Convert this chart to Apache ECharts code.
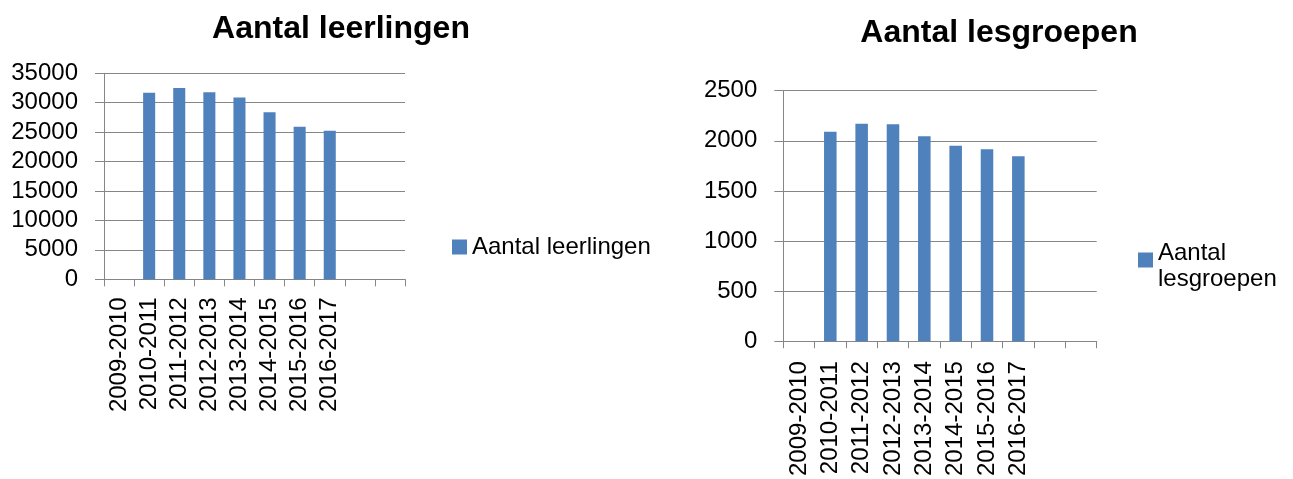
<!DOCTYPE html>
<html>
<head>
<meta charset="utf-8">
<script src="https://cdn.jsdelivr.net/npm/echarts@6/dist/echarts.min.js"></script>
<style>
html,body{margin:0;padding:0;background:#fff;}
#c{width:1293px;height:479px;}
</style>
</head>
<body>
<div id="c"></div>
<script>
const categories = ['2009-2010','2010-2011','2011-2012','2012-2013','2013-2014','2014-2015','2015-2016','2016-2017','',''];
const leerlingen = [null, 31700, 32500, 31800, 30900, 28400, 25900, 25250, null, null];
const lesgroepen = [null, 2090, 2170, 2165, 2045, 1950, 1915, 1845, null, null];
const titleLeft = 'Aantal leerlingen';
const titleRight = 'Aantal lesgroepen';
const seriesLeft = 'Aantal leerlingen';
const seriesRight = 'Aantal lesgroepen';

const FONT = '"Liberation Sans", Arial, sans-serif';
const GRID = '#868686';
const BAR = '#4F81BD';

function xAxis(gridIndex, margin) {
  return {
    type: 'category', gridIndex, data: categories, boundaryGap: true,
    axisLine: {show: true, lineStyle: {color: GRID, width: 1}},
    axisTick: {show: true, length: 7, interval: 0, alignWithLabel: false, lineStyle: {color: GRID}},
    axisLabel: {interval: 0, rotate: 90, margin, color: '#000', fontFamily: FONT, fontSize: 24},
    splitLine: {show: false}
  };
}
function yAxis(gridIndex, max, interval) {
  return {
    type: 'value', gridIndex, min: 0, max, interval,
    axisLine: {show: true, lineStyle: {color: GRID, width: 1}},
    axisTick: {show: true, length: 9, lineStyle: {color: GRID}},
    axisLabel: {margin: 26, color: '#000', fontFamily: FONT, fontSize: 24, formatter: v => String(v)},
    splitLine: {show: true, lineStyle: {color: GRID, width: 1}}
  };
}

const chart = echarts.init(document.getElementById('c'), null, {renderer: 'canvas'});
chart.setOption({
  animation: false,
  backgroundColor: '#fff',
  title: [
    {text: titleLeft, left: 336, top: 8, textAlign: 'center',
     textStyle: {fontFamily: FONT, fontWeight: 'bold', fontSize: 32, color: '#000'}},
    {text: titleRight, left: 994, top: 12, textAlign: 'center',
     textStyle: {fontFamily: FONT, fontWeight: 'bold', fontSize: 32, color: '#000'}}
  ],
  legend: [
    {data: [seriesLeft], left: 452, top: 233.5, padding: 0, itemWidth: 15, itemHeight: 15, icon: 'rect',
     textStyle: {fontFamily: FONT, fontSize: 24, color: '#000', lineHeight: 27}},
    {data: [seriesRight], left: 1138, top: 228, padding: 0, itemWidth: 15, itemHeight: 15, icon: 'rect',
     formatter: n => {
       const i = n.indexOf(' ');
       return '{s| }\n{a|' + n.slice(0, i) + '}\n{a|' + n.slice(i + 1) + '}';
     },
     textStyle: {fontFamily: FONT, fontSize: 24, color: '#000',
       rich: {
         s: {fontSize: 1, lineHeight: 12, height: 12},
         a: {fontFamily: FONT, fontSize: 24, color: '#000', lineHeight: 26}
       }}}
  ],
  grid: [
    {left: 104, top: 73.3, width: 301, height: 206, containLabel: false},
    {left: 783.3, top: 90.7, width: 313.4, height: 255, containLabel: false}
  ],
  xAxis: [xAxis(0, 18), xAxis(1, 20)],
  yAxis: [yAxis(0, 35000, 5000), yAxis(1, 2500, 500)],
  series: [
    {name: seriesLeft, type: 'bar', xAxisIndex: 0, yAxisIndex: 0, data: leerlingen,
     barCategoryGap: '60%', itemStyle: {color: BAR}},
    {name: seriesRight, type: 'bar', xAxisIndex: 1, yAxisIndex: 1, data: lesgroepen,
     barCategoryGap: '60%', itemStyle: {color: BAR}}
  ]
});
</script>
</body>
</html>
